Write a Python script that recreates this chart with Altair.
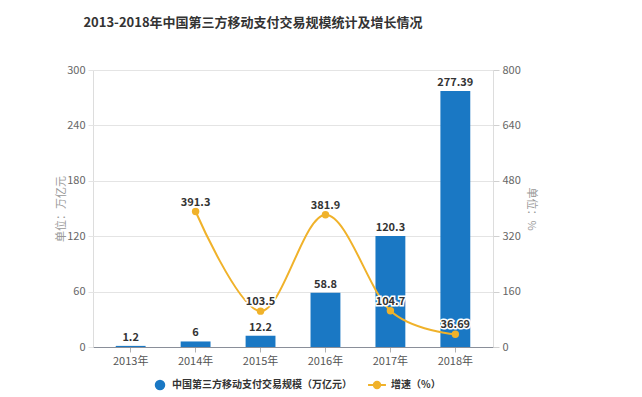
import altair as alt
import pandas as pd

years = ["2013年", "2014年", "2015年", "2016年", "2017年", "2018年"]
scale_values = [1.2, 6, 12.2, 58.8, 120.3, 277.39]
growth_values = [None, 391.3, 103.5, 381.9, 104.7, 36.69]

bar_name = "中国第三方移动支付交易规模（万亿元）"
line_name = "增速（%）"
title_text = "2013-2018年中国第三方移动支付交易规模统计及增长情况"

FONT = "Noto Sans CJK SC"
BLUE = "#1a78c4"
ORANGE = "#f0b22a"

df = pd.DataFrame({
    "year": years,
    "scale": scale_values,
    "growth": growth_values,
})
df["scale_label"] = [f"{v:g}" for v in scale_values]
df["growth_label"] = [("" if v is None else f"{v:g}") for v in growth_values]
df["bar_name"] = bar_name
df["line_name"] = line_name

x_enc = alt.X(
    "year:N",
    sort=years,
    scale=alt.Scale(paddingInner=0.54, paddingOuter=0.35),
    axis=alt.Axis(
        title=None, labelAngle=0, domain=True, domainColor="#8a8f99",
        ticks=True, tickColor="#b0b0b0", tickSize=5, labelPadding=3,
        labelColor="#555555", labelFontSize=11, labelFont=FONT, grid=False,
    ),
)

base = alt.Chart(df).encode(x=x_enc)

bars = base.mark_bar().encode(
    y=alt.Y(
        "scale:Q",
        scale=alt.Scale(domain=[0, 300], nice=False),
        axis=alt.Axis(
            values=[0, 60, 120, 180, 240, 300], grid=True, gridColor="#e4e4e4",
            domain=False, ticks=True, tickColor="#e4e4e4", tickSize=5,
            labelColor="#666666", labelFontSize=11, labelFont=FONT, labelPadding=3,
            title="单位：万亿元", titleColor="#999999", titleFontWeight="normal",
            titleFontSize=11, titleFont=FONT, titlePadding=0,
        ),
    ),
    fill=alt.Fill(
        "bar_name:N",
        scale=alt.Scale(domain=[bar_name], range=[BLUE]),
        legend=alt.Legend(
            title=None, orient="none", legendX=61, legendY=309,
            symbolType="circle", symbolSize=110, padding=0,
            labelFont=FONT, labelFontSize=10, labelFontWeight="bold",
            labelColor="#333333", labelOffset=6, labelLimit=400,
        ),
    ),
)

bar_text = base.mark_text(
    baseline="bottom", dy=-3, fontSize=11, fontWeight="bold",
    color="#333333", font=FONT,
).encode(y=alt.Y("scale:Q"), text="scale_label:N")

left = alt.layer(bars, bar_text)

y2 = alt.Y(
    "growth:Q",
    scale=alt.Scale(domain=[0, 800], nice=False),
    axis=alt.Axis(
        orient="right", values=[0, 160, 320, 480, 640, 800], grid=False,
        domain=False, ticks=True, tickColor="#d0d0d0", tickSize=6,
        labelColor="#666666", labelFontSize=11, labelFont=FONT, labelPadding=3,
        title="单位：%", titleColor="#999999", titleFontWeight="normal",
        titleFontSize=11, titleFont=FONT, titlePadding=5,
    ),
)

line = base.mark_line(interpolate="cardinal", strokeWidth=2).encode(
    y=y2,
    stroke=alt.Stroke(
        "line_name:N",
        scale=alt.Scale(domain=[line_name], range=[ORANGE]),
        legend=alt.Legend(
            title=None, orient="none", legendX=274, legendY=305,
            symbolType="M-1,0L1,0M-0.36,0A0.36,0.36,0,1,1,0.36,0A0.36,0.36,0,1,1,-0.36,0Z",
            symbolSize=320, symbolFillColor=ORANGE, symbolStrokeWidth=2,
            padding=0, labelFont=FONT, labelFontSize=10, labelFontWeight="bold",
            labelColor="#333333", labelOffset=4, labelLimit=200,
        ),
    ),
)

points = base.mark_point(filled=True, size=55, color=ORANGE, opacity=1).encode(
    y=alt.Y("growth:Q")
)

halo = base.mark_text(
    baseline="bottom", dy=-4, fontSize=11, fontWeight="bold", font=FONT,
    stroke="white", strokeWidth=3, color="white",
).encode(y=alt.Y("growth:Q"), text="growth_label:N")

line_text = base.mark_text(
    baseline="bottom", dy=-4, fontSize=11, fontWeight="bold", font=FONT,
    color="#333333",
).encode(y=alt.Y("growth:Q"), text="growth_label:N")

right = alt.layer(line, points, halo, line_text)

chart = (
    alt.layer(left, right)
    .resolve_scale(y="independent")
    .properties(
        width=400,
        height=277,
        title=alt.TitleParams(
            title_text, anchor="middle", dx=-40, fontSize=13, fontWeight="bold",
            color="#333333", font=FONT, offset=34,
        ),
        autosize=alt.AutoSizeParams(type="none"),
        padding={"left": 85, "top": 62, "right": 130, "bottom": 48},
    )
    .configure_view(stroke=None)
    .configure(background="white")
)

chart.save("out.html", embed_options={"renderer": "svg", "actions": False})
